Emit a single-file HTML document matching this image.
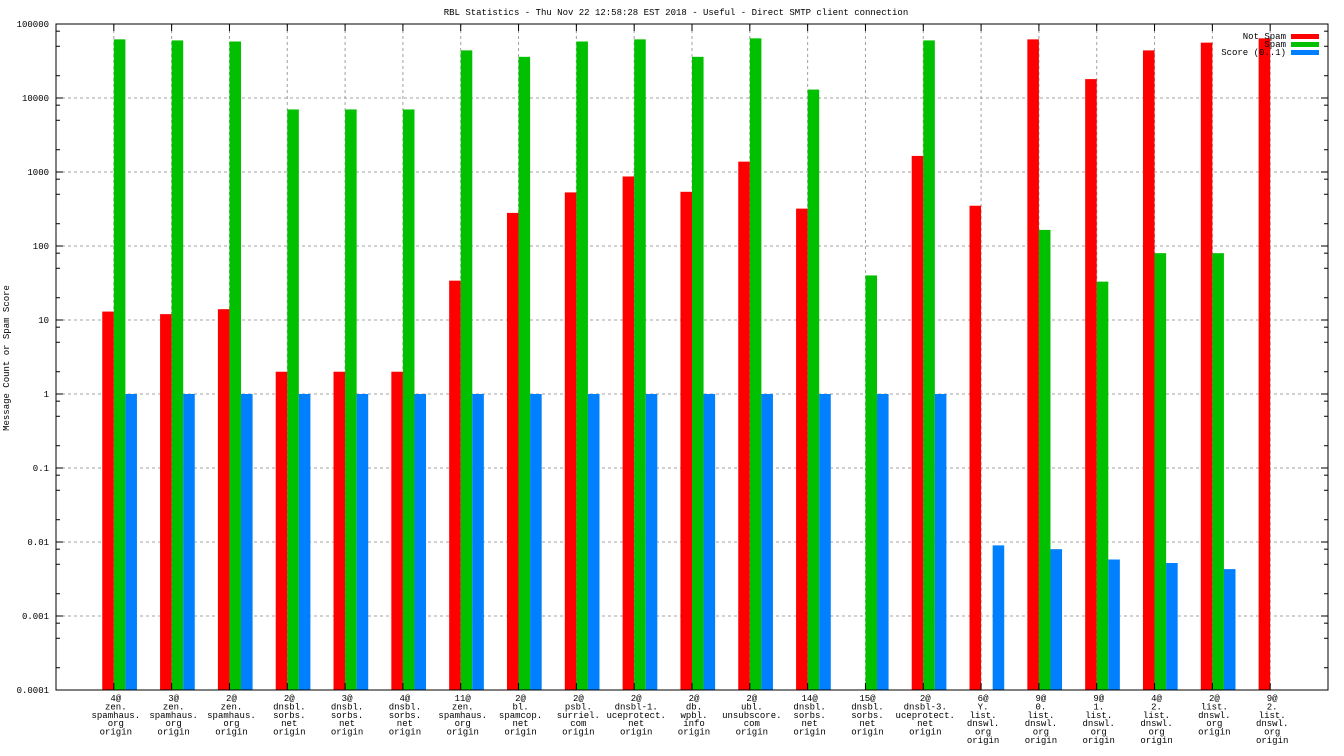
<!DOCTYPE html>
<html><head><meta charset="utf-8"><style>
html,body{margin:0;padding:0;background:#fff;}
svg{display:block;font-family:"Liberation Mono",monospace;font-size:9px;}
</style></head><body>
<svg id="chart" width="1344" height="756" xmlns="http://www.w3.org/2000/svg">
<text x="676" y="15" text-anchor="middle">RBL Statistics - Thu Nov 22 12:58:28 EST 2018 - Useful - Direct SMTP client connection</text>
<text transform="translate(9,358) rotate(-90)" text-anchor="middle">Message Count or Spam Score</text>
<g id="grid"></g><g id="bars"></g><g id="axes"></g><g id="legend"></g>
</svg>
<script>
const categories=[
["4@","zen.","spamhaus.","org","origin"],["3@","zen.","spamhaus.","org","origin"],["2@","zen.","spamhaus.","org","origin"],
["2@","dnsbl.","sorbs.","net","origin"],["3@","dnsbl.","sorbs.","net","origin"],["4@","dnsbl.","sorbs.","net","origin"],
["11@","zen.","spamhaus.","org","origin"],["2@","bl.","spamcop.","net","origin"],["2@","psbl.","surriel.","com","origin"],
["2@","dnsbl-1.","uceprotect.","net","origin"],["2@","db.","wpbl.","info","origin"],["2@","ubl.","unsubscore.","com","origin"],
["14@","dnsbl.","sorbs.","net","origin"],["15@","dnsbl.","sorbs.","net","origin"],["2@","dnsbl-3.","uceprotect.","net","origin"],
["6@","Y.","list.","dnswl.","org","origin"],["9@","0.","list.","dnswl.","org","origin"],["9@","1.","list.","dnswl.","org","origin"],
["4@","2.","list.","dnswl.","org","origin"],["2@","list.","dnswl.","org","origin"],["9@","2.","list.","dnswl.","org","origin"]];
const notSpam=[13,12,14,2,2,2,34,280,530,870,540,1380,320,0,1650,350,62000,18000,44000,56000,64000];
const spam=[62000,60000,58000,7000,7000,7000,44000,36000,58000,62000,36000,64000,13000,40,60000,0,165,33,80,80,0];
const score=[1,1,1,1,1,1,1,1,1,1,1,1,1,1,1,0.009,0.008,0.0058,0.0052,0.0043,0];
const yTicks=["0.0001","0.001","0.01","0.1","1","10","100","1000","10000","100000"];
const NS="http://www.w3.org/2000/svg";
const L=56,R=1328,T=24,B=690;
const step=(R-L)/(categories.length+1), bw=step*0.2;
function x(i){return L+(i+1)*step;}
function y(v){return B-(Math.log10(v)+4)/9*(B-T);}
function mk(p,tag,a){const e=document.createElementNS(NS,tag);for(const k in a)e.setAttribute(k,a[k]);p.appendChild(e);return e;}
const grid=document.getElementById('grid'),bars=document.getElementById('bars'),axes=document.getElementById('axes'),leg=document.getElementById('legend');
yTicks.forEach((t,k)=>{const v=parseFloat(t),yy=y(v);
 if(k>0&&k<yTicks.length-1){const g=mk(grid,'line',{x1:L,x2:R,y1:yy,y2:yy,stroke:'#a0a0a0','stroke-dasharray':'3,3'});
 
 }
 const tl=mk(axes,'text',{x:L-7,y:yy+3,'text-anchor':'end'});tl.textContent=t;
 
 
 mk(axes,'line',{x1:L,x2:L+7,y1:yy,y2:yy,stroke:'#000'});mk(axes,'line',{x1:R,x2:R-7,y1:yy,y2:yy,stroke:'#000'});
 if(k<yTicks.length-1)[2,5,8].forEach(m=>{const ym=y(v*m);mk(axes,'line',{x1:L,x2:L+4,y1:ym,y2:ym,stroke:'#000'});mk(axes,'line',{x1:R,x2:R-4,y1:ym,y2:ym,stroke:'#000'});});
});
const cols=['#ff0000','#00c000','#0080ff'],series=[notSpam,spam,score],names=['not-spam','spam','score'];
categories.forEach((c,i)=>{const cx=x(i);
 const g=mk(grid,'line',{x1:cx,x2:cx,y1:T,y2:B,stroke:'#a0a0a0','stroke-dasharray':'3,3'});
 
 
 mk(axes,'line',{x1:cx,x2:cx,y1:B,y2:B-7,stroke:'#000'});mk(axes,'line',{x1:cx,x2:cx,y1:T,y2:T+7,stroke:'#000'});
 series.forEach((s,j)=>{const v=s[i];if(!(v>0))return;const yy=y(v);
  const r=mk(bars,'rect',{x:cx-bw+j*bw,y:yy,width:bw,height:B-yy,fill:cols[j]});
  
  });
 const t=mk(axes,'text',{x:cx+2,y:B+11,'text-anchor':'middle'});
 
 
 c.forEach((ln,k)=>{const ts=mk(t,'tspan',{x:cx+2,dy:k?8.4:0});ts.textContent=ln;});
});
mk(axes,'rect',{x:L,y:T,width:R-L,height:B-T,fill:'none',stroke:'#000'});
['Not Spam','Spam','Score (0..1)'].forEach((n,j)=>{const yy=37+j*8;
 const t=mk(leg,'text',{x:1286,y:yy+2,'text-anchor':'end'});t.textContent=n;
 
 
 const s=mk(leg,'rect',{x:1291,y:yy-3,width:28,height:5,fill:cols[j]});
 
 });
</script>
</body></html>
